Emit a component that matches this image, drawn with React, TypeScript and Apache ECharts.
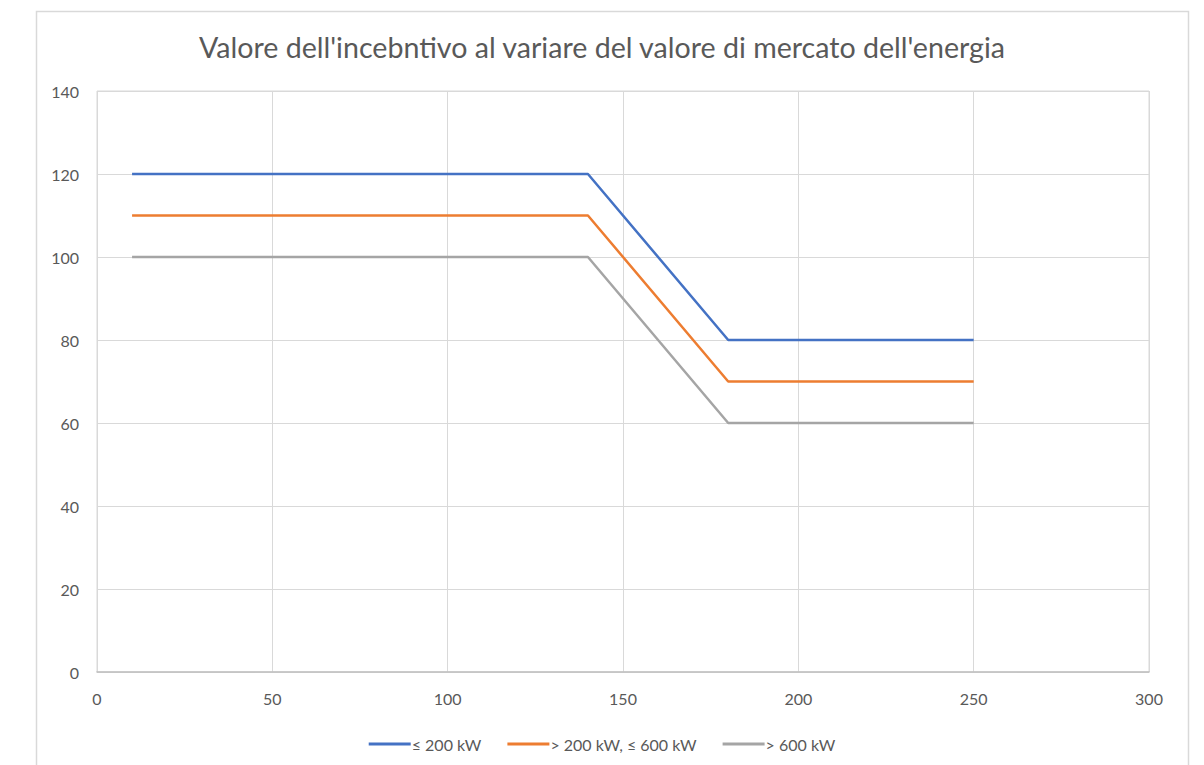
import React, { useEffect, useRef } from "react";
import * as echarts from "echarts";

const xValues = [10, 140, 180, 250];
const seriesNames = ["≤ 200 kW", "> 200 kW, ≤ 600 kW", "> 600 kW"];
const blueValues = [120, 120, 80, 80];
const orangeValues = [110, 110, 70, 70];
const grayValues = [100, 100, 60, 60];
const colors = ["#4472c4", "#ed7d31", "#a5a5a5"];
const titleText = "Valore dell'incebntivo al variare del valore di mercato dell'energia";

export default function App() {
  const ref = useRef<HTMLDivElement>(null);
  useEffect(() => {
    if (!ref.current) return;
    const chart = echarts.init(ref.current, null, { renderer: "svg" });
    const all = [blueValues, orangeValues, grayValues];
    const font = "Lato, 'Open Sans', sans-serif";
    chart.setOption({
      animation: false,
      backgroundColor: "#ffffff",
      textStyle: { fontFamily: font },
      title: {
        text: titleText,
        left: "center",
        top: 27,
        textStyle: { fontSize: 28.6, fontWeight: "normal", color: "#595959", fontFamily: font },
      },
      graphic: [
        {
          type: "rect",
          shape: { x: 36.5, y: 11.5, width: 1152, height: 800 },
          style: { fill: "none", stroke: "#d9d9d9", lineWidth: 1.5 },
          silent: true,
          z: -1,
        },
      ],
      grid: {
        left: 97,
        right: 1204 - 1149,
        top: 91,
        bottom: 765 - 672,
        show: true,
        borderColor: "#d9d9d9",
        borderWidth: 1,
      },
      xAxis: {
        type: "value",
        min: 0,
        max: 300,
        interval: 50,
        axisLine: { show: true, lineStyle: { color: "#bfbfbf", width: 1.5 } },
        axisTick: { show: false },
        splitLine: { show: true, lineStyle: { color: "#d9d9d9", width: 1 } },
        axisLabel: { color: "#595959", fontSize: 16, margin: 18, fontFamily: font },
      },
      yAxis: {
        type: "value",
        min: 0,
        max: 140,
        interval: 20,
        axisLine: { show: false },
        axisTick: { show: false },
        splitLine: { show: true, lineStyle: { color: "#d9d9d9", width: 1 } },
        axisLabel: { color: "#595959", fontSize: 16, margin: 18, fontFamily: font },
      },
      legend: {
        top: 731,
        left: "center",
        icon: "rect",
        itemWidth: 42,
        itemHeight: 3,
        itemGap: 26,
        textStyle: { color: "#595959", fontSize: 16, fontFamily: font, padding: [0, 0, 0, -4] },
        data: seriesNames,
      },
      series: seriesNames.map((name, i) => ({
        name,
        type: "line",
        symbol: "none",
        color: colors[i],
        lineStyle: { width: 2.5, color: colors[i] },
        data: xValues.map((x, j) => [x, all[i][j]]),
      })),
    });
    return () => chart.dispose();
  }, []);
  return (
    <div
      ref={ref}
      style={{ position: "fixed", left: 0, top: 0, width: 1204, height: 765 }}
    />
  );
}
